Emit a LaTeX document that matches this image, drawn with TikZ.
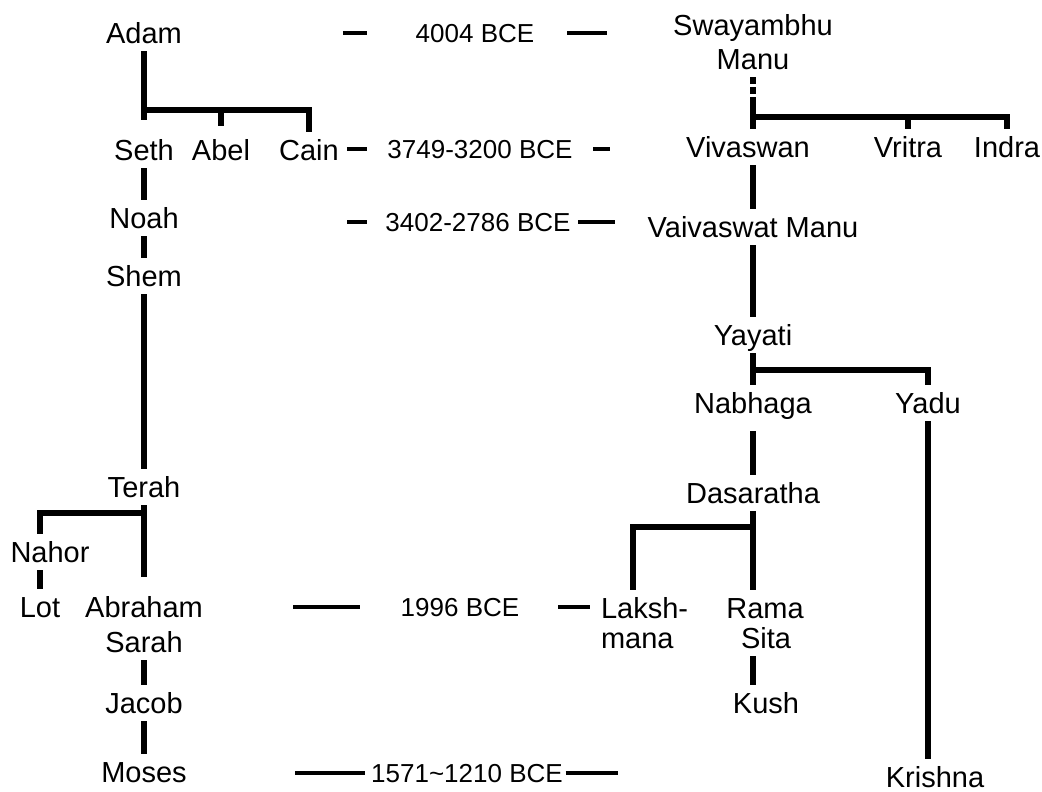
\documentclass[tikz,border=0pt]{standalone}
\usepackage{fontspec}
\setmainfont{Liberation Sans}
\usepackage{tikz}
\usetikzlibrary{calc}
\newcommand{\namefont}{\fontsize{14.5}{17}\selectfont}
\newcommand{\datefont}{\fontsize{13}{15}\selectfont}
\tikzset{
  nm/.style={font=\namefont, inner sep=0pt, outer sep=4pt, text height=10.4pt, text depth=0pt},
  nmtwo/.style={font=\namefont, inner sep=0pt, outer sep=4pt},
  dt/.style={font=\datefont, inner sep=0pt, text height=9.3pt, text depth=0pt},
  tree/.style={line width=2.6pt},
  tick/.style={line width=1.8pt},
}
\begin{document}
\begin{tikzpicture}[x=0.5pt, y=-0.5pt]
\useasboundingbox (0,0) rectangle (1042,791);

% biblical line
\node[nm] (adam)    at (144,33)  {Adam};
\node[nm] (seth)    at (144,150) {Seth};
\node[nm] (abel)    at (221,150) {Abel};
\node[nm] (cain)    at (309,150) {Cain};
\node[nm] (noah)    at (144,218) {Noah};
\node[nm] (shem)    at (144,276) {Shem};
\node[nm] (terah)   at (144,487) {Terah};
\node[nm] (nahor)   at (50,552)  {Nahor};
\node[nm] (lot)     at (40,607)  {Lot};
\node[nm] (abraham) at (144,607) {Abraham};
\node[nm] (sarah)   at (144,642) {Sarah};
\node[nm] (jacob)   at (144,703) {Jacob};
\node[nm] (moses)   at (144,772) {Moses};

\coordinate (fkA) at (144,110);
\coordinate (fkT) at (144,513);
\draw[tree, shorten >=5.8pt] (adam) -- (seth);
\draw[tree] (fkA) -| (cain.north);
\draw[tree, shorten >=3pt] (fkA -| abel) -- (abel.north);
\draw[tree] (seth) -- (noah);
\draw[tree] (noah) -- (shem);
\draw[tree] (shem) -- (terah);
\draw[tree, shorten >=6pt] (terah) -- (abraham);
\draw[tree] (fkT) -| (lot.north |- nahor.north);
\draw[tree] (lot.north |- nahor.south) -- (lot.north);
\draw[tree] (sarah) -- (jacob);
\draw[tree] (jacob) -- (moses);

% vedic line
\node[nmtwo, align=center, anchor=north] (swaya) at (753,6) {Swayambhu\\Manu};
\node[nm] (vivaswan)  at (748,147) {Vivaswan};
\node[nm] (vritra)    at (908,147) {Vritra};
\node[nm] (indra)     at (1007,147) {Indra};
\node[nm] (vaivaswat) at (753,227) {Vaivaswat Manu};
\node[nm] (yayati)    at (753,335) {Yayati};
\node[nm] (nabhaga)   at (753,403) {Nabhaga};
\node[nm] (yadu)      at (928,403) {Yadu};
\node[nm] (dasaratha) at (753,493) {Dasaratha};
\node[nmtwo, font={\fontsize{14.5}{15}\selectfont}, align=left, anchor=north west]
  (laksh) at (593,589.6) {Laksh-\\mana};
\node[nm] (rama)    at (765,608) {Rama};
\node[nm] (sita)    at (766,638) {Sita};
\node[nm] (kush)    at (766,703) {Kush};
\node[nm] (krishna) at (935,777) {Krishna};

\coordinate (fkS) at (753,117);
\coordinate (fkY) at (753,370);
\coordinate (fkD) at (753,527);
\draw[tree, dash pattern=on 3.5pt off 1.5pt] (swaya.south) -- ($(fkS)+(0,-14)$);
\draw[tree] ($(fkS)+(0,-14)$) -- (fkS |- vivaswan.north);
\draw[tree] (fkS) -| (indra.north);
\draw[tree] (fkS -| vritra) -- (vritra.north);
\draw[tree] (fkS |- vivaswan.south) -- (vaivaswat.north);
\draw[tree] (vaivaswat) -- (yayati);
\draw[tree] (yayati) -- (nabhaga);
\draw[tree] (fkY) -| (yadu.north);
\draw[tree, shorten <=5pt] (nabhaga) -- (dasaratha);
\draw[tree] (dasaratha.south) -- (dasaratha.south |- rama.north);
\draw[tree] (fkD) -| ([xshift=20pt]laksh.north west);
\draw[tree] (fkD |- sita.south) -- (fkD |- kush.north);
\draw[tree] (yadu.south) -- (yadu.south |- krishna.north);

% dates
\node[dt] (d4004) at (475,33)  {4004 BCE};
\node[dt] (d3749) at (480,149) {3749-3200 BCE};
\node[dt] (d3402) at (478,222) {3402-2786 BCE};
\node[dt] (d1996) at (460,607) {1996 BCE};
\node[dt] (d1571) at (467,773) {1571\textasciitilde1210 BCE};

\draw[tick, shorten <=76.5pt, shorten >=24.4pt] (d4004.west -| adam.east) -- (d4004.west);
\draw[tick, shorten <=16.4pt, shorten >=29.1pt] (d4004.east) -- (d4004.east -| swaya.west);
\draw[tick, shorten <=0pt, shorten >=10.2pt] (d3749.west -| cain.east) -- (d3749.west);
\draw[tick, shorten <=10.2pt, shorten >=34pt] (d3749.east) -- (d3749.east -| vivaswan.west);
\draw[tick, shorten <=80.2pt, shorten >=9.2pt] (d3402.west -| noah.east) -- (d3402.west);
\draw[tick, shorten <=3.7pt, shorten >=12.2pt] (d3402.east) -- (d3402.east -| vaivaswat.west);
\draw[tick, shorten <=41.1pt, shorten >=20.4pt] (d1996.west -| abraham.east) -- (d1996.west);
\draw[tick, shorten <=19.4pt, shorten >=1.5pt] (d1996.east) -- (d1996.east -| laksh.west);
\draw[tick, shorten <=50.2pt, shorten >=3.1pt] (d1571.west -| moses.east) -- (d1571.west);
\draw[tick, shorten <=1.2pt, shorten >=129.9pt] (d1571.east) -- (d1571.east -| krishna.west);
\end{tikzpicture}
\end{document}
